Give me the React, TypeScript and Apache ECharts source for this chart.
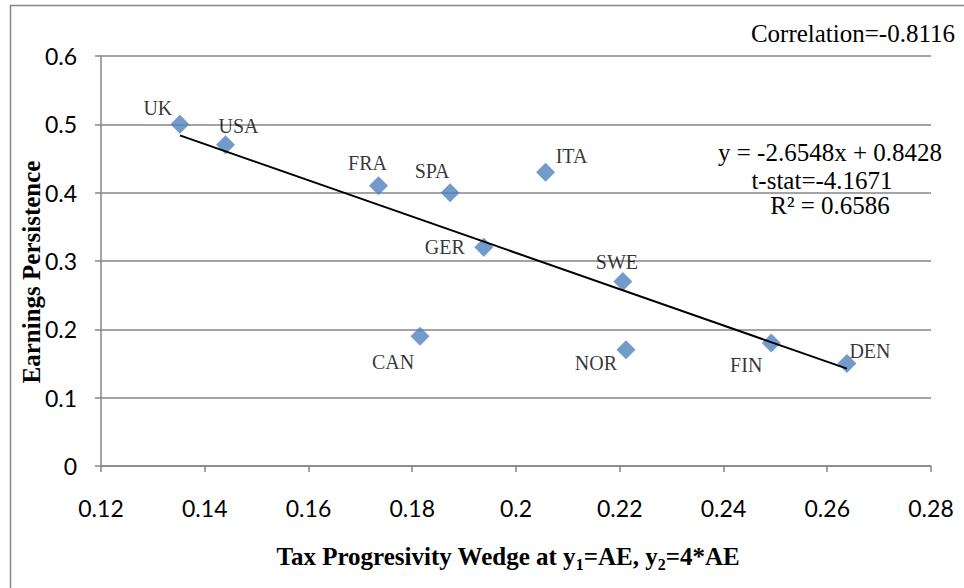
import React, { useEffect, useRef } from "react";
import * as echarts from "echarts";

const countries = ["UK", "USA", "FRA", "SPA", "ITA", "GER", "SWE", "CAN", "NOR", "FIN", "DEN"];
const taxWedge = [0.1352, 0.144, 0.1735, 0.1873, 0.2057, 0.1938, 0.2206, 0.1815, 0.2212, 0.2492, 0.2638];
const persistence = [0.5, 0.47, 0.41, 0.4, 0.43, 0.32, 0.27, 0.19, 0.17, 0.18, 0.15];

const trendSlope = -2.6548;
const trendIntercept = 0.8428;

const xMin = 0.12, xMax = 0.28, xStep = 0.02;
const yMin = 0, yMax = 0.6, yStep = 0.1;

const correlationText = "Correlation=-0.8116";
const equationText = "y = -2.6548x + 0.8428";
const tstatText = "t-stat=-4.1671";
const r2Text = "R² = 0.6586";
const yTitle = "Earnings Persistence";

// label placement (style only)
const labelOffsets: Record<string, [number, number]> = {
  UK: [-22, -16],
  USA: [13, -19],
  FRA: [-11, -23],
  SPA: [-18, -22],
  ITA: [26, -16],
  GER: [-39, 0],
  SWE: [-6, -20],
  CAN: [-27, 26],
  NOR: [-30, 13],
  FIN: [-25, 22],
  DEN: [23, -13],
};

const SERIF = "'Liberation Serif', 'Times New Roman', serif";
const SANS = "Lato, 'Open Sans', sans-serif";
const GRAY = "#868686";

export default function App() {
  const ref = useRef<HTMLDivElement>(null);
  useEffect(() => {
    if (!ref.current) return;
    const chart = echarts.init(ref.current, null, { renderer: "svg" });
    const xLo = Math.min(...taxWedge);
    const xHi = Math.max(...taxWedge);
    const trend = [
      [xLo, trendSlope * xLo + trendIntercept],
      [xHi, trendSlope * xHi + trendIntercept],
    ];
    chart.setOption({
      animation: false,
      backgroundColor: "#ffffff",
      grid: { left: 101, top: 56, right: 33, bottom: 122, containLabel: false },
      xAxis: {
        type: "value",
        min: xMin,
        max: xMax,
        interval: xStep,
        axisLine: { show: true, lineStyle: { color: GRAY, width: 1.5 } },
        axisTick: { show: true, length: 6, lineStyle: { color: GRAY, width: 1.5 } },
        splitLine: { show: false },
        axisLabel: { fontFamily: SANS, fontSize: 23, color: "#000", margin: 30 },
      },
      yAxis: {
        type: "value",
        min: yMin,
        max: yMax,
        interval: yStep,
        axisLine: { show: true, lineStyle: { color: GRAY, width: 1.5 } },
        axisTick: { show: true, length: 6, lineStyle: { color: GRAY, width: 1.5 } },
        splitLine: { show: true, lineStyle: { color: GRAY, width: 1.5 } },
        axisLabel: { fontFamily: SANS, fontSize: 23, color: "#000", margin: 24 },
      },
      series: [
        {
          type: "scatter",
          symbol: "diamond",
          symbolSize: 19,
          itemStyle: { color: "#4F81BD" },
          z: 2,
          data: countries.map((c, i) => ({
            name: c,
            value: [taxWedge[i], persistence[i]],
            label: {
              show: true,
              position: "inside",
              offset: labelOffsets[c],
              formatter: c,
              fontFamily: SERIF,
              fontSize: 20,
              color: "#000",
            },
          })),
        },
        {
          type: "line",
          data: trend,
          symbol: "none",
          silent: true,
          z: 3,
          lineStyle: { color: "#000", width: 2 },
        },
      ],
      graphic: [
        {
          type: "rect",
          shape: { x: 10.5, y: 5.5, width: 1200, height: 800 },
          style: { fill: "none", stroke: GRAY, lineWidth: 1.5 },
          silent: true,
        },
        {
          type: "text",
          x: 955,
          y: 33.5,
          style: { text: correlationText, font: `25px ${SERIF}`, fill: "#000", align: "right", verticalAlign: "middle" },
        },
        {
          type: "text",
          x: 830,
          y: 152.5,
          style: { text: equationText, font: `25px ${SERIF}`, fill: "#000", align: "center", verticalAlign: "middle" },
        },
        {
          type: "text",
          x: 822,
          y: 180,
          style: { text: tstatText, font: `25px ${SERIF}`, fill: "#000", align: "center", verticalAlign: "middle" },
        },
        {
          type: "text",
          x: 830,
          y: 205.5,
          style: { text: r2Text, font: `25px ${SERIF}`, fill: "#000", align: "center", verticalAlign: "middle" },
        },
        {
          type: "text",
          x: 31,
          y: 272,
          rotation: Math.PI / 2,
          style: { text: yTitle, font: `bold 25px ${SERIF}`, fill: "#000", align: "center", verticalAlign: "middle" },
        },
        {
          type: "text",
          x: 508,
          y: 556,
          style: {
            text: "{b|Tax Progresivity Wedge at y}{s|1}{b|=AE, y}{s|2}{b|=4*AE}",
            align: "center",
            verticalAlign: "middle",
            rich: {
              b: { fontFamily: SERIF, fontWeight: "bold", fontSize: 25, color: "#000" },
              s: { fontFamily: SERIF, fontWeight: "bold", fontSize: 16, color: "#000", padding: [16, 0, 0, 0] },
            },
          },
        },
      ],
    });
    return () => chart.dispose();
  }, []);
  return <div ref={ref} style={{ position: "absolute", left: 0, top: 0, width: 964, height: 588 }} />;
}
